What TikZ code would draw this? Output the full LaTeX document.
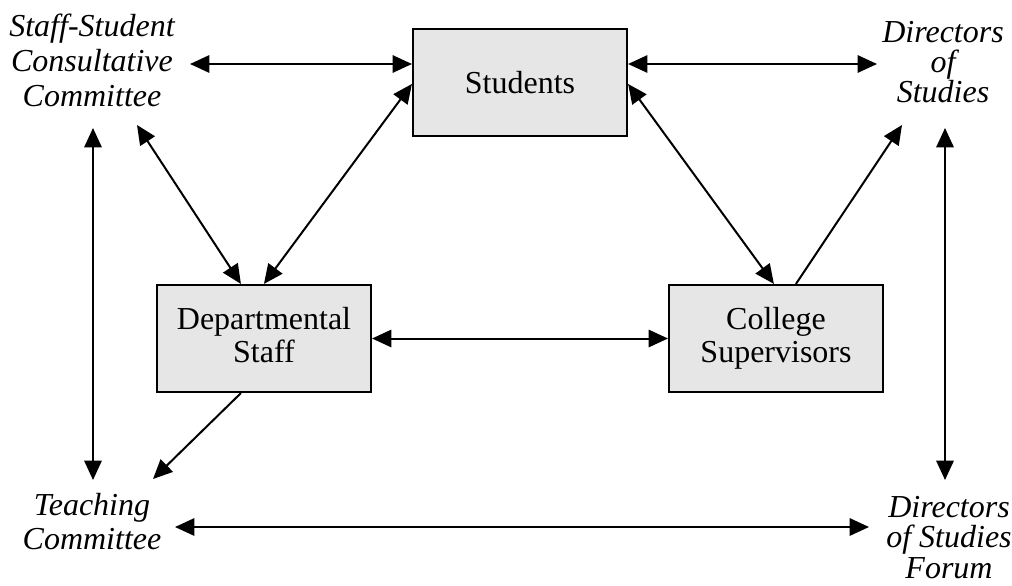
\documentclass[tikz,border=0pt]{standalone}
\usepackage{fontspec}
\setmainfont{Liberation Serif}
\usetikzlibrary{arrows.meta,calc}
\definecolor{boxgray}{HTML}{E6E6E6}
\newcommand\lstrut{\rule{0pt}{18pt}}
\begin{document}
\begin{tikzpicture}[x=0.75pt,y=-0.75pt,
  box/.style={draw=black,line width=1.6pt,fill=boxgray,minimum width=160.5pt,minimum height=80.25pt,align=center,inner sep=0pt},
  boxfont/.style={font=\fontsize{24}{24.75}\selectfont},
  lab/.style={align=center,inner sep=0pt,anchor=north},
  tip/.tip={Triangle[length=14.5pt,width=13pt]},
  conn/.style={line width=1.5pt,-tip},
  both/.style={line width=1.5pt,tip-tip}]
\useasboundingbox (0,0) rectangle (1012,585);

% boxes
\node[box,boxfont] (students) at (520,82.5) {Students};
\node[box,boxfont] (dept) at (264,338.5) {Departmental\\\raisebox{0pt}[\height][5.2pt]{Staff}};
\node[box,boxfont] (coll) at (776,338.5) {College\\Supervisors};

% labels
\node[lab,font=\itshape\fontsize{24}{26.25}\selectfont] (ssc) at (92,12) {\lstrut Staff-Student\\Consultative\\Committee};
\node[lab,font=\itshape\fontsize{24}{22.5}\selectfont] (dos) at (943,18) {\lstrut Directors\\of\\Studies};
\node[lab,font=\itshape\fontsize{24}{25.5}\selectfont] (tc) at (92,491) {\lstrut Teaching\\Committee};
\node[lab,font=\itshape\fontsize{24}{22.9}\selectfont] (dosf) at (949,493) {\lstrut Directors\\of Studies\\Forum};

% connector end points near labels
\coordinate (sscE) at (190,64);
\coordinate (sscS) at (93,128);
\coordinate (sscSE) at (137,125);
\coordinate (dosW) at (877,64);
\coordinate (dosSW) at (902,125);
\coordinate (dosS) at (945,128);
\coordinate (tcN) at (93,480);
\coordinate (tcNE) at (153,479);
\coordinate (tcE) at (175,527);
\coordinate (dosfN) at (945,480);
\coordinate (dosfW) at (869,527);

% connectors
\draw[both] (sscE) -- (sscE -| students.west);
\draw[both] (students.east |- dosW) -- (dosW);
\draw[both] (sscSE) -- ($(dept.north west)+(85,0)$);
\draw[both] ($(students.north west)+(0,56)$) -- ($(dept.north west)+(108,0)$);
\draw[both] ($(students.north east)+(0,56)$) -- ($(coll.north west)+(106,0)$);
\draw[conn] ($(coll.north west)+(128,0)$) -- (dosSW);
\draw[both] (dept.east) -- (coll.west);
\draw[both] (sscS) -- (tcN);
\draw[conn] ($(dept.south west)+(85,0)$) -- (tcNE);
\draw[both] (dosS) -- (dosfN);
\draw[both] (tcE) -- (dosfW);
\end{tikzpicture}
\end{document}
